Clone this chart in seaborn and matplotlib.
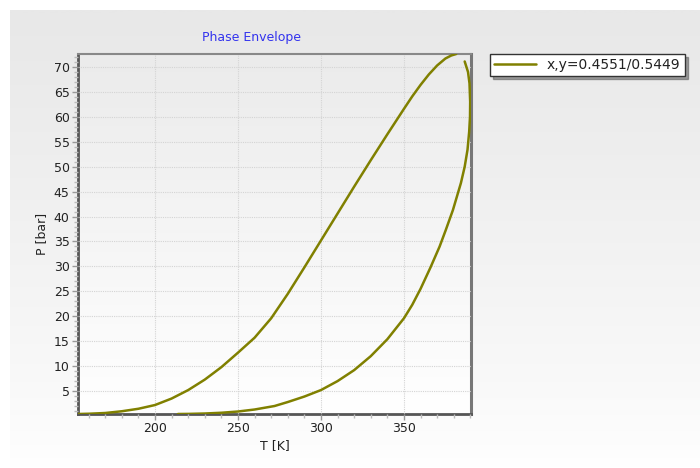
import numpy as np
import pandas as pd
import seaborn as sns
import matplotlib.pyplot as plt
from matplotlib.colors import LinearSegmentedColormap
from matplotlib.ticker import MultipleLocator

# bubble branch (left, rising to the top)
bubble_T = [153.7, 160, 170, 180, 190, 200, 210, 220, 230, 240, 250, 260, 270, 280,
            290, 300, 310, 320, 330, 340, 350, 355, 360, 365, 370, 375, 378.5, 381.5]
bubble_P = [0.4, 0.45, 0.6, 0.95, 1.45, 2.2, 3.5, 5.2, 7.3, 9.8, 12.7, 15.7, 19.6, 24.5,
            29.8, 35.2, 40.6, 46.0, 51.3, 56.5, 61.6, 64.1, 66.4, 68.5, 70.3, 71.7, 72.3, 72.6]

# dew branch (right, from the bottom up to the top)
dew_T = [213.8, 220, 230, 240, 250, 260, 272, 280, 290, 300, 310, 320, 330, 340, 350,
         355, 360, 366, 371.5, 375.2, 379.5, 384.3, 386.6, 388.3, 389.3, 389.8, 389.9,
         389.5, 388.6, 386.6]
dew_P = [0.4, 0.42, 0.5, 0.65, 0.9, 1.3, 2.0, 2.8, 3.9, 5.2, 7.0, 9.2, 12.0, 15.4, 19.6,
         22.3, 25.5, 29.8, 34.0, 37.3, 41.3, 46.7, 50.0, 53.4, 57.0, 60.0, 63.0,
         66.7, 69.0, 71.1]

label = "x,y=0.4551/0.5449"
olive = "#808000"

df_bubble = pd.DataFrame({"T": bubble_T, "P": bubble_P})
df_dew = pd.DataFrame({"T": dew_T, "P": dew_P})

sns.set_style("white")
plt.rcParams['font.family'] = ['DejaVu Sans']

fig = plt.figure(figsize=(7, 4.68), dpi=100)
fig.patch.set_facecolor("white")

# grey panel behind everything, fading to white at the bottom
bg = fig.add_axes([10 / 700, 0, 690 / 700, 458 / 468], zorder=-2)
bg_cmap = LinearSegmentedColormap.from_list("bg", ["#ffffff", "#e8e8e8"])
bg.imshow(np.linspace(0, 1, 256).reshape(-1, 1)[::-1] ** 0.8, cmap=bg_cmap, aspect="auto",
          extent=[0, 1, 0, 1])
bg.axis("off")

ax = fig.add_axes([78 / 700, 1 - 414 / 468, (471 - 78) / 700, (414 - 54) / 468])
xmin, xmax, ymin, ymax = 153.6, 390.4, 0.4, 72.6
plot_cmap = LinearSegmentedColormap.from_list("plot", ["#ffffff", "#ebebeb"])
ax.imshow(np.linspace(0, 1, 256).reshape(-1, 1)[::-1], cmap=plot_cmap, aspect="auto",
          extent=[xmin, xmax, ymin, ymax], zorder=0)

sns.lineplot(x="T", y="P", data=df_bubble, sort=False, estimator=None, color=olive,
             linewidth=1.8, label=label, ax=ax, zorder=3)
sns.lineplot(x="T", y="P", data=df_dew, sort=False, estimator=None, color=olive,
             linewidth=1.8, ax=ax, zorder=3)
ax.get_legend().remove()

ax.set_xlim(xmin, xmax)
ax.set_ylim(ymin, ymax)
ax.xaxis.set_major_locator(MultipleLocator(50))
ax.xaxis.set_minor_locator(MultipleLocator(10))
ax.yaxis.set_major_locator(MultipleLocator(5))
ax.yaxis.set_minor_locator(MultipleLocator(1))
ax.grid(True, which="major", color="#d4d4d4", linestyle=(0, (1, 1)), linewidth=0.8, zorder=1)
ax.set_axisbelow(False)

ax.tick_params(which="major", direction="out", length=4, width=1, color="#999999",
               labelsize=9, labelcolor="#222222", pad=2)
ax.tick_params(which="minor", direction="out", length=3, width=1, color="#bbbbbb")
ax.tick_params(axis="x", which="both", bottom=True)
ax.tick_params(axis="y", which="both", left=True)

for side in ["left", "bottom"]:
    ax.spines[side].set_color("#555555")
    ax.spines[side].set_linewidth(2)
ax.spines["top"].set_color("#888888")
ax.spines["top"].set_linewidth(1.5)
ax.spines["right"].set_color("#777777")
ax.spines["right"].set_linewidth(2.2)

ax.set_xlabel("T [K]", fontsize=9, color="#222222", labelpad=3)
ax.set_ylabel("P [bar]", fontsize=9, color="#222222", labelpad=4)

fig.text(251 / 700, 1 - 38 / 468, "Phase Envelope", color="#3333ee", fontsize=9,
         ha="center", va="center")

handles, labels = ax.get_legend_handles_labels()
leg = fig.legend(handles, labels, loc="upper left", bbox_to_anchor=(490 / 700, 1 - 54 / 468),
                 fontsize=10, frameon=True, fancybox=False, shadow=True, framealpha=1,
                 edgecolor="#333333", handlelength=3, borderpad=0.3, borderaxespad=0)
leg.get_frame().set_linewidth(1)
for t in leg.get_texts():
    t.set_color("#222222")

fig.savefig("out.png", dpi=100)
